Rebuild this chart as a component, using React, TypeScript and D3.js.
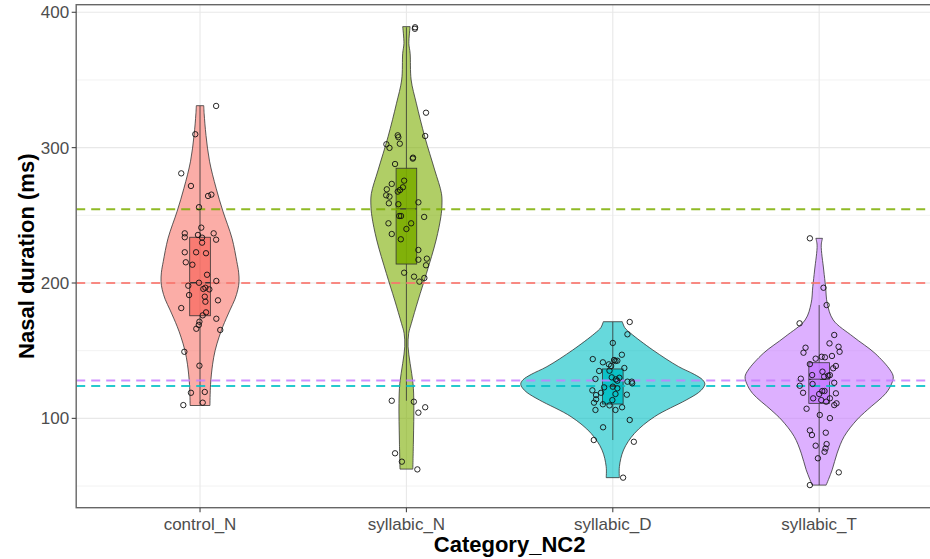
import React from "react";
import * as d3 from "d3";

const categories = ["control_N", "syllabic_N", "syllabic_D", "syllabic_T"];
const colors = ["#F8766D", "#7CAE00", "#00BFC4", "#C77CFF"];
const meanValues = [200, 254.5, 124, 128];
const yTicks = [100, 200, 300, 400];
const yMinorTicks = [50, 150, 250, 350];

const boxLow = [110, 113, 84, 50.7];
const boxQ1 = [175.8, 214, 110.6, 111.1];
const boxMedian = [200.2, 254.7, 123.9, 128.8];
const boxQ3 = [233.8, 284.8, 136.5, 141.1];
const boxHigh = [330.8, 388.9, 171.2, 183.7];

// violin profiles: [value, half-width in category units]
const violinControlN: [number, number][] = [
  [109.5, 0.048], [125, 0.051], [140, 0.061], [150, 0.073], [160, 0.092], [168, 0.111],
  [180, 0.145], [188, 0.169], [195, 0.183], [201, 0.189], [208, 0.187], [216, 0.178],
  [233, 0.155], [253, 0.111], [270, 0.078], [290, 0.046], [309, 0.029], [325, 0.02], [331, 0.018],
];
const violinSyllabicN: [number, number][] = [
  [62.5, 0.031], [84, 0.034], [111, 0.036], [125.8, 0.032], [140.6, 0.018], [152.9, 0.008],
  [162.8, 0.011], [170.2, 0.024], [187.4, 0.057], [207, 0.097], [231.8, 0.144], [249, 0.167],
  [257, 0.172], [266, 0.17], [283.5, 0.137], [308, 0.089], [332.8, 0.048], [350, 0.023],
  [369.7, 0.018], [377, 0.012], [389.4, 0.018],
];
const violinSyllabicD: [number, number][] = [
  [56.2, 0.032], [64.3, 0.032], [76.6, 0.052], [88.9, 0.105], [101.2, 0.202], [113.5, 0.355],
  [119, 0.415], [122.5, 0.438], [125.5, 0.446], [128.5, 0.435], [132.5, 0.395], [138.2, 0.319],
  [150.5, 0.194], [162.8, 0.087], [167, 0.058], [171.4, 0.046],
];
const violinSyllabicT: [number, number][] = [
  [50.7, 0.034], [62, 0.063], [74.3, 0.087], [86.6, 0.121], [98.8, 0.182], [106.2, 0.233],
  [118.5, 0.323], [126, 0.352], [130.8, 0.359], [135.7, 0.344], [148, 0.271], [160.3, 0.165],
  [172.7, 0.068], [185, 0.039], [197.3, 0.031], [209.6, 0.022], [228, 0.01], [233, 0.016],
];

// points: [jitter in category units, value]
const pointsControlN: [number, number][] = [
  [0.078, 330.8], [-0.023, 309.9], [-0.091, 281], [-0.044, 271.7], [0.039, 264.3], [0.055, 265.3],
  [-0.005, 256], [0.006, 240.9], [-0.074, 236.7], [-0.074, 233.8], [-0.01, 235.5], [0.01, 233.5],
  [0.066, 236.7], [0.078, 232], [0.01, 229.8], [-0.074, 222.7], [-0.019, 222.7], [0.029, 222],
  [-0.069, 215.3], [-0.037, 213.5], [0.034, 206.1], [0.079, 201.5], [-0.005, 200.2], [-0.057, 198],
  [0.016, 195.6], [0.045, 195.3], [0.026, 196.5], [-0.053, 191.1], [0.023, 189.9], [0.087, 187.2],
  [0.026, 186.2], [-0.091, 181.5], [0.029, 178.3], [0.013, 176.1], [0.079, 173.6], [-0.003, 171.4],
  [-0.006, 169], [-0.018, 166.2], [0.098, 165.3], [-0.076, 149.2], [-0.003, 138.9], [-0.044, 118.9],
  [0.023, 119.5], [-0.081, 109.8], [0.013, 111.6],
];
const pointsSyllabicN: [number, number][] = [
  [0.042, 388.9], [0.041, 387.8], [0.095, 325.8], [0.091, 308.6], [-0.042, 309.1], [-0.039, 307.7],
  [-0.032, 302.9], [-0.097, 302.5], [-0.082, 299.8], [0.032, 292.6], [0.031, 291.9], [-0.055, 287.9],
  [-0.011, 275.6], [-0.071, 273.2], [-0.017, 270.7], [-0.031, 268.7], [-0.095, 269.2], [-0.042, 267.5],
  [-0.098, 264.8], [-0.082, 263.8], [-0.085, 258.9], [-0.039, 258.2], [0.058, 259.6], [-0.035, 249.5],
  [-0.026, 249.5], [0.086, 248.8], [-0.087, 244.1], [0.023, 244.1], [0.0, 239.9], [-0.071, 236.2],
  [-0.027, 232.3], [0.058, 224.4], [0.058, 217.2], [0.099, 218], [0.095, 213.1], [-0.011, 207.6],
  [0.037, 204.7], [0.087, 203.7], [0.063, 201], [-0.071, 113], [0.036, 112.3], [0.058, 104.2],
  [0.091, 108.2], [-0.055, 74.2], [-0.022, 68], [0.053, 62.3],
];
const pointsSyllabicD: [number, number][] = [
  [0.082, 171.2], [0.071, 162.1], [0.0, 155.7], [0.044, 147], [-0.097, 143.8], [0.006, 143.1],
  [0.013, 142.4], [0.022, 142.6], [-0.048, 141.4], [-0.019, 139.9], [-0.008, 138.7], [0.056, 137.2],
  [-0.066, 135], [-0.016, 135.2], [-0.005, 130.3], [0.032, 130], [-0.084, 129.1], [0.015, 128.8],
  [0.022, 127.8], [0.071, 127.1], [0.092, 127.1], [0.094, 125.9], [-0.042, 122.9], [0.0, 123.4],
  [0.022, 122.2], [-0.099, 120.7], [-0.057, 118.9], [-0.081, 117.2], [0.068, 117.5], [0.013, 118],
  [-0.081, 114.1], [-0.002, 113.5], [-0.091, 111.6], [-0.048, 110.4], [-0.016, 109.6], [0.013, 106.2],
  [0.045, 108.2], [-0.084, 106.2], [0.082, 98.8], [-0.047, 93.4], [-0.092, 84], [0.102, 82.7],
  [0.05, 56.2],
];
const pointsSyllabicT: [number, number][] = [
  [-0.045, 233], [0.021, 196.5], [0.036, 183.7], [-0.095, 170.2], [0.073, 161.6], [0.05, 155.4],
  [0.094, 152.9], [-0.066, 152.2], [-0.076, 148.5], [0.099, 149.2], [0.062, 146.1], [-0.017, 144.1],
  [0.012, 145.5], [0.028, 145.1], [-0.045, 140.1], [0.081, 138.7], [0.068, 137], [0.016, 134.5],
  [-0.034, 132], [0.044, 131.5], [0.024, 130.8], [0.052, 131.9], [-0.089, 129.3], [-0.094, 124.1],
  [0.073, 126.3], [-0.032, 125.4], [0.081, 118.5], [-0.078, 118.9], [0.015, 120.2], [0.026, 120.2],
  [0.0, 118], [0.052, 114.8], [-0.029, 114.8], [0.01, 113.5], [0.034, 112.3], [0.084, 111.1],
  [0.073, 109.8], [-0.061, 107.1], [0.003, 102.5], [0.052, 100.2], [-0.045, 91.1], [-0.035, 87.7],
  [0.032, 89.4], [-0.017, 79.8], [0.036, 81], [0.031, 77.8], [0.026, 75.3], [-0.006, 70.5],
  [0.095, 60.1], [-0.045, 50.7],
];

const violins = [violinControlN, violinSyllabicN, violinSyllabicD, violinSyllabicT];
const pointSets = [pointsControlN, pointsSyllabicN, pointsSyllabicD, pointsSyllabicT];

const W = 930;
const H = 559;
const panel = { left: 76.2, right: 943, top: 4.7, bottom: 507.7 };

export default function App() {
  const x = d3.scalePoint<string>().domain(categories).range([panel.left, panel.right]).padding(0.6);
  const step = x.step();
  const y = d3.scaleLinear().domain([34, 405.6]).range([panel.bottom, panel.top]);
  const font = "'Liberation Sans', Arial, sans-serif";

  const area = (cx: number) =>
    d3
      .area<[number, number]>()
      .y((d) => y(d[0]))
      .x0((d) => cx - d[1] * step)
      .x1((d) => cx + d[1] * step)
      .curve(d3.curveCatmullRom.alpha(0.5));

  const boxHalf = 0.05 * step;

  return (
    <div style={{ position: "fixed", left: 0, top: 0 }}>
      <svg width={W} height={H} style={{ display: "block", background: "#fff" }}>
        <defs>
          <clipPath id="pclip">
            <rect x={panel.left} y={panel.top} width={panel.right - panel.left} height={panel.bottom - panel.top} />
          </clipPath>
        </defs>
        <rect x={panel.left} y={panel.top} width={panel.right - panel.left} height={panel.bottom - panel.top} fill="#fff" />
        <g clipPath="url(#pclip)">
          {yMinorTicks.map((t) => (
            <line key={"mn" + t} x1={panel.left} x2={panel.right} y1={y(t)} y2={y(t)} stroke="#F2F2F2" strokeWidth={1} />
          ))}
          {yTicks.map((t) => (
            <line key={"mj" + t} x1={panel.left} x2={panel.right} y1={y(t)} y2={y(t)} stroke="#E8E8E8" strokeWidth={1.1} />
          ))}
          {categories.map((c) => (
            <line key={"vx" + c} x1={x(c)} x2={x(c)} y1={panel.top} y2={panel.bottom} stroke="#E8E8E8" strokeWidth={1.1} />
          ))}
          {categories.map((c, i) => (
            <path
              key={"vio" + c}
              d={area(x(c) as number)(violins[i]) as string}
              fill={colors[i]}
              fillOpacity={0.6}
              stroke="#333"
              strokeWidth={0.8}
            />
          ))}
          {categories.map((c, i) => {
            const cx = x(c) as number;
            return (
              <g key={"box" + c}>
                <line x1={cx} x2={cx} y1={y(boxHigh[i])} y2={y(boxLow[i])} stroke="#333" strokeWidth={0.8} />
                <rect
                  x={cx - boxHalf}
                  y={y(boxQ3[i])}
                  width={boxHalf * 2}
                  height={y(boxQ1[i]) - y(boxQ3[i])}
                  fill={colors[i]}
                  fillOpacity={0.9}
                  stroke="#333"
                  strokeWidth={0.8}
                />
                <line x1={cx - boxHalf} x2={cx + boxHalf} y1={y(boxMedian[i])} y2={y(boxMedian[i])} stroke="#333" strokeWidth={1.3} />
              </g>
            );
          })}
          {meanValues.map((m, i) => (
            <line
              key={"mean" + i}
              x1={panel.left}
              x2={panel.right}
              y1={y(m)}
              y2={y(m)}
              stroke={colors[i]}
              strokeOpacity={0.85}
              strokeWidth={2}
              strokeDasharray="9,6"
            />
          ))}
          {categories.map((c, i) =>
            pointSets[i].map((p, k) => (
              <circle
                key={"pt" + c + k}
                cx={(x(c) as number) + p[0] * step}
                cy={y(p[1])}
                r={2.7}
                fill="none"
                stroke="#111"
                strokeWidth={0.9}
              />
            ))
          )}
        </g>
        <rect
          x={panel.left}
          y={panel.top}
          width={panel.right - panel.left}
          height={panel.bottom - panel.top}
          fill="none"
          stroke="#666"
          strokeWidth={1.4}
        />
        {yTicks.map((t) => (
          <g key={"yt" + t}>
            <line x1={panel.left - 4.5} x2={panel.left} y1={y(t)} y2={y(t)} stroke="#444" strokeWidth={1.1} />
            <text x={panel.left - 7} y={y(t)} dy="0.35em" textAnchor="end" fontFamily={font} fontSize={17} fill="#4D4D4D">
              {t}
            </text>
          </g>
        ))}
        {categories.map((c) => (
          <g key={"xt" + c}>
            <line x1={x(c)} x2={x(c)} y1={panel.bottom} y2={panel.bottom + 4.5} stroke="#444" strokeWidth={1.1} />
            <text x={x(c)} y={530} textAnchor="middle" fontFamily={font} fontSize={17} fill="#4D4D4D">
              {c}
            </text>
          </g>
        ))}
        <text
          x={(panel.left + panel.right) / 2}
          y={552}
          textAnchor="middle"
          fontFamily={font}
          fontSize={22}
          fontWeight="bold"
          fill="#000"
        >
          Category_NC2
        </text>
        <text
          transform={`translate(34, ${(panel.top + panel.bottom) / 2}) rotate(-90)`}
          textAnchor="middle"
          fontFamily={font}
          fontSize={22}
          fontWeight="bold"
          fill="#000"
        >
          Nasal duration (ms)
        </text>
      </svg>
    </div>
  );
}
